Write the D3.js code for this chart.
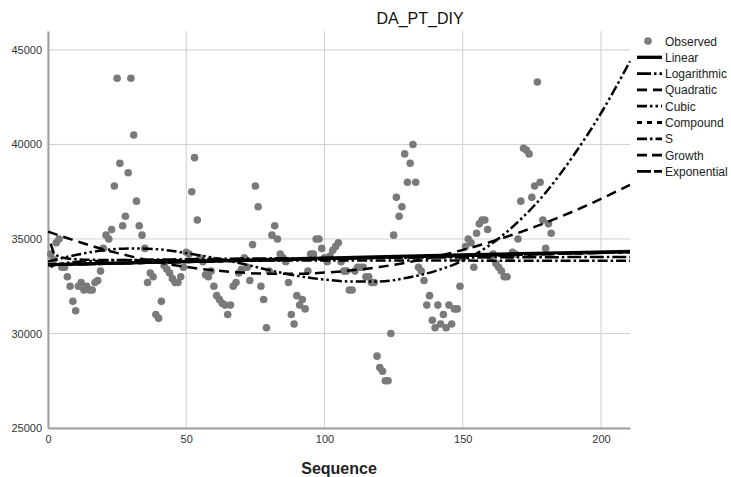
<!DOCTYPE html>
<html>
<head>
<meta charset="utf-8">
<script src="https://cdn.jsdelivr.net/npm/d3@7"></script>
<style>
  body { margin: 0; background: #fff; }
  svg { font-family: "Liberation Sans", Arial, sans-serif; }
</style>
</head>
<body>
<svg id="chart" width="731" height="477"></svg>
<script>
// observed values, sequence 1..182
var observed = [
  34200, 33900, 34800, 35000, 33500, 33500, 33000, 32500, 31700, 31200,
  32500, 32700, 32300, 32500, 32300, 32300, 32700, 32800, 33300, 34500,
  35200, 35000, 35500, 37800, 43500, 39000, 35700, 36200, 38500, 43500,
  40500, 37000, 35700, 35200, 34500, 32700, 33200, 33000, 31000, 30800,
  31700, 33600, 33400, 33200, 32900, 32700, 32700, 33000, 33500, 34300,
  34200, 37500, 39300, 36000, 34000, 33800, 33100, 33000, 33300, 32500,
  32000, 31800, 31600, 31500, 31000, 31500, 32500, 32700, 33200, 33400,
  34000, 33500, 32800, 34700, 37800, 36700, 32500, 31800, 30300, 33300,
  35200, 35700, 35000, 34200, 34000, 33800, 32700, 31000, 30500, 32000,
  31500, 31800, 31300, 33300, 34200, 34200, 35000, 35000, 34500, 34000,
  33800, 34100, 34400, 34600, 34800, 33800, 33300, 33300, 32300, 32300,
  33300, 33500, 33500, 33500, 33000, 33000, 32700, 32700, 28800, 28200,
  28000, 27500, 27500, 30000, 35200, 37200, 36200, 36700, 39500, 38000,
  39000, 40000, 38000, 33500, 33300, 32800, 31500, 32000, 30700, 30300,
  31500, 30500, 31000, 30300, 31500, 30500, 31300, 31300, 32500, 34000,
  34600, 35000, 34800, 33500, 35300, 35800, 36000, 36000, 35500, 34000,
  34200, 33700, 33500, 33300, 33000, 33000, 34000, 34300, 34200, 35000,
  37000, 39800, 39700, 39500, 37200, 37800, 43300, 38000, 36000, 34500,
  35800, 35300
];

// fitted curves at these sequence values
var fit_x = [0, 10, 20, 30, 40, 50, 60, 70, 80, 90, 100, 110, 120, 130, 140, 150, 160, 170, 180, 190, 200, 210.5];
var cubic_y = [33800, 34150, 34400, 34500, 34450, 34250, 34000, 33700, 33350, 33050, 32850, 32750, 32750, 32950, 33300, 33850, 34700, 35900, 37450, 39400, 41650, 44400];
var quadratic_y = [35390, 34900, 34450, 34080, 33760, 33520, 33340, 33220, 33160, 33160, 33220, 33340, 33520, 33760, 34060, 34420, 34840, 35320, 35860, 36460, 37120, 37860];

var line_x = [0, 50, 100, 150, 210.5];
var linear_y = [33650, 33820, 33990, 34160, 34350];
var expo_y = [33620, 33780, 33940, 34100, 34300];

var log_x = [1, 2, 5, 10, 20, 50, 100, 150, 210.5];
var log_y = [33500, 33600, 33700, 33780, 33850, 33930, 33990, 34020, 34050];

var s_x = [1, 2, 3, 5, 10, 20, 50, 100, 210.5];
var s_y = [34750, 34300, 34150, 34020, 33930, 33890, 33870, 33860, 33850];

var x_ticks = [0, 50, 100, 150, 200];
var y_ticks = [25000, 30000, 35000, 40000, 45000];

var legend_names = ["Linear", "Logarithmic", "Quadratic", "Cubic", "Compound", "S", "Growth", "Exponential"];

var svg = d3.select("#chart");
var margin = {top: 31, right: 101, bottom: 49, left: 48};
var width = 731, height = 477;

var x = d3.scaleLinear().domain([0, 210.5]).range([margin.left, width - margin.right]);
var y = d3.scaleLinear().domain([25000, 46000]).range([height - margin.bottom, margin.top]);

// grid
svg.append("g").selectAll("line").data(y_ticks).enter().append("line")
  .attr("x1", margin.left).attr("x2", width - margin.right)
  .attr("y1", function(d) { return y(d); }).attr("y2", function(d) { return y(d); })
  .attr("stroke", "#cfcfcf").attr("stroke-width", 1);
svg.append("g").selectAll("line").data(x_ticks).enter().append("line")
  .attr("x1", function(d) { return x(d); }).attr("x2", function(d) { return x(d); })
  .attr("y1", margin.top).attr("y2", height - margin.bottom)
  .attr("stroke", "#cfcfcf").attr("stroke-width", 1);

// axes
var xAxis = svg.append("g")
  .attr("transform", "translate(0," + (height - margin.bottom) + ")")
  .call(d3.axisBottom(x).tickValues(x_ticks).tickSize(0).tickPadding(7));
var yAxis = svg.append("g")
  .attr("transform", "translate(" + margin.left + ",0)")
  .call(d3.axisLeft(y).tickValues(y_ticks).tickFormat(d3.format("d")).tickSize(0).tickPadding(6));
[xAxis, yAxis].forEach(function(a) {
  a.select(".domain").attr("stroke", "#a0a0a0").attr("stroke-width", 2);
  a.selectAll("text").attr("fill", "#333").style("font-size", "11px");
});

// observed points
svg.append("g").selectAll("circle").data(observed).enter().append("circle")
  .attr("cx", function(d, i) { return x(i + 1); })
  .attr("cy", function(d) { return y(d); })
  .attr("r", 3.8)
  .attr("fill", "#7a7a7a");

// fitted lines
var styles = {
  "Linear": {dash: null, w: 3},
  "Logarithmic": {dash: "14,3,2.5,3", w: 2.5},
  "Quadratic": {dash: "10,6", w: 2.5},
  "Cubic": {dash: "10,3,2.5,3,2.5,3", w: 2.5},
  "Compound": {dash: "5,5", w: 2.5},
  "S": {dash: "10,3,2.5,3", w: 2.5},
  "Growth": {dash: "10,5", w: 2.5},
  "Exponential": {dash: "14,3", w: 2.5}
};

function pairs(xs, ys) {
  return xs.map(function(v, i) { return [v, ys[i]]; });
}
var curves = [
  {name: "Compound", data: pairs(line_x, expo_y)},
  {name: "Growth", data: pairs(line_x, expo_y)},
  {name: "Exponential", data: pairs(line_x, expo_y)},
  {name: "Logarithmic", data: pairs(log_x, log_y)},
  {name: "S", data: pairs(s_x, s_y)},
  {name: "Quadratic", data: pairs(fit_x, quadratic_y)},
  {name: "Cubic", data: pairs(fit_x, cubic_y)},
  {name: "Linear", data: pairs(line_x, linear_y)}
];

var fitline = d3.line()
  .x(function(d) { return x(d[0]); })
  .y(function(d) { return y(d[1]); })
  .curve(d3.curveMonotoneX);

svg.append("g").selectAll("path").data(curves).enter().append("path")
  .attr("d", function(d) { return fitline(d.data); })
  .attr("fill", "none")
  .attr("stroke", "#000")
  .attr("stroke-width", function(d) { return styles[d.name].w; })
  .attr("stroke-dasharray", function(d) { return styles[d.name].dash; });

// title
svg.append("text").attr("x", 420).attr("y", 24).attr("text-anchor", "middle")
  .style("font-size", "16px").attr("fill", "#111").text("DA_PT_DIY");

// axis title
svg.append("text").attr("x", 339).attr("y", 474)
  .attr("text-anchor", "middle").style("font-size", "16px").style("font-weight", "bold")
  .attr("fill", "#222").text("Sequence");

// legend
var lg = svg.append("g").attr("transform", "translate(637,41)");
lg.append("circle").attr("cx", 11).attr("cy", 0).attr("r", 3.8).attr("fill", "#7a7a7a");
lg.append("text").attr("x", 28).attr("y", 4.5).style("font-size", "12px").attr("fill", "#222").text("Observed");
legend_names.forEach(function(n, i) {
  var yy = 16.3 * (i + 1);
  lg.append("line").attr("x1", 0).attr("x2", 25).attr("y1", yy).attr("y2", yy)
    .attr("stroke", "#000").attr("stroke-width", styles[n].w + 0.3)
    .attr("stroke-dasharray", styles[n].dash);
  lg.append("text").attr("x", 28).attr("y", yy + 4.5).style("font-size", "12px")
    .attr("fill", "#222").text(n);
});
</script>
</body>
</html>
